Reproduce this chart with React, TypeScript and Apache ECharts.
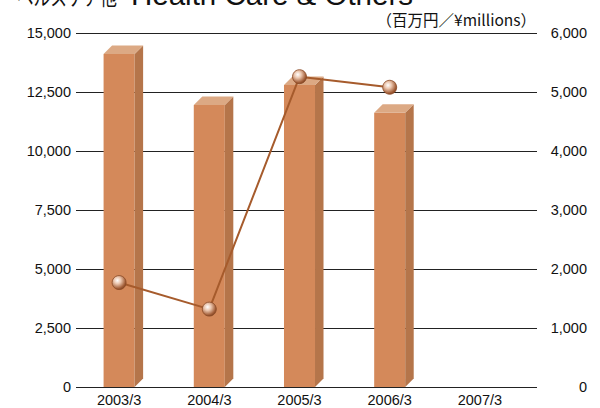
import React, { useEffect, useRef } from "react";
import * as echarts from "echarts";

const categories = ["2003/3", "2004/3", "2005/3", "2006/3", "2007/3"];
const salesValues: (number | null)[] = [14110, 11950, 12800, 11620, null];
const incomeValues: (number | null)[] = [1770, 1320, 5260, 5080, null];
const leftTicks = { min: 0, max: 15000, interval: 2500 };
const rightTicks = { min: 0, max: 6000, interval: 1000 };
const titleJa = "ヘルスケア他";
const titleEn = "Health Care & Others";
const unitText = "（百万円／¥millions）";

const FONT = "'Liberation Sans', Arial, Helvetica, sans-serif";
const fmt = (v: number) => v.toLocaleString("en-US");

export default function App() {
  const ref = useRef<HTMLDivElement>(null);
  useEffect(() => {
    if (!ref.current) return;
    const chart = echarts.init(ref.current, undefined, { renderer: "svg" });
    const frontColor = "#D4895A";
    const sideColor = "#B5754A";
    const topColor = "#DCA984";
    const option: any = {
      animation: false,
      backgroundColor: "#ffffff",
      grid: [
        { left: 74, right: 75, top: 33, bottom: 21 },
        { left: 76, right: 63, top: 33, bottom: 21 },
      ],
      xAxis: [
        {
          type: "category",
          gridIndex: 0,
          data: categories,
          axisLine: { show: false },
          axisTick: { show: false },
          axisLabel: { color: "#111", fontFamily: FONT, fontSize: 14.5, margin: 5 },
        },
        { type: "value", gridIndex: 1, show: false, min: 0, max: 1 },
      ],
      yAxis: [
        { type: "value", gridIndex: 0, show: false, ...leftTicks },
        { type: "value", gridIndex: 0, show: false, ...rightTicks },
        {
          type: "value",
          gridIndex: 1,
          position: "left",
          ...leftTicks,
          axisLine: { show: false },
          axisTick: { show: false },
          axisLabel: { color: "#111", fontFamily: FONT, fontSize: 14.5, margin: 5, formatter: fmt },
          splitLine: { show: true, lineStyle: { color: "#222", width: 1 } },
        },
        {
          type: "value",
          gridIndex: 1,
          position: "right",
          ...rightTicks,
          axisLine: { show: false },
          axisTick: { show: false },
          axisLabel: {
            color: "#111",
            fontFamily: FONT,
            fontSize: 14.5,
            margin: 50,
            align: "right",
            formatter: fmt,
          },
          splitLine: { show: false },
        },
      ],
      series: [
        {
          type: "custom",
          xAxisIndex: 0,
          yAxisIndex: 0,
          z: 3,
          data: salesValues.map((v, i) => [i, v]),
          renderItem: (params: any, api: any) => {
            const v = api.value(1);
            if (v === null || v === undefined || isNaN(v)) return null;
            const topPt = api.coord([api.value(0), v]);
            const basePt = api.coord([api.value(0), 0]);
            const w = api.size([1, 0])[0] * 0.344;
            const d = 8.5;
            const l = topPt[0] - w / 2;
            const r = topPt[0] + w / 2;
            const t = topPt[1];
            const b = basePt[1];
            return {
              type: "group",
              children: [
                {
                  type: "rect",
                  shape: { x: l, y: t, width: w, height: b - t },
                  style: { fill: frontColor },
                },
                {
                  type: "polygon",
                  shape: { points: [[r, t], [r + d, t - d], [r + d, b - d], [r, b]] },
                  style: { fill: sideColor },
                },
                {
                  type: "polygon",
                  shape: { points: [[l, t], [l + d, t - d], [r + d, t - d], [r, t]] },
                  style: { fill: topColor },
                },
              ],
            };
          },
        },
        {
          type: "line",
          xAxisIndex: 0,
          yAxisIndex: 1,
          z: 5,
          data: incomeValues,
          symbol: "circle",
          symbolSize: 14,
          lineStyle: { color: "#A65B2C", width: 2 },
          itemStyle: {
            color: new echarts.graphic.RadialGradient(0.38, 0.35, 0.7, [
              { offset: 0, color: "#ffffff" },
              { offset: 0.35, color: "#EBC6AE" },
              { offset: 0.8, color: "#A4603A" },
              { offset: 1, color: "#7E4120" },
            ]),
            borderColor: "#8A4A26",
            borderWidth: 0.8,
          },
        },
      ],
      graphic: [
        {
          type: "text",
          x: 117,
          y: -5,
          scaleX: 0.76,
          style: {
            text: titleJa,
            fontFamily: "'Noto Sans CJK JP', sans-serif",
            fontSize: 22,
            fill: "#111",
            align: "right",
            verticalAlign: "middle",
          },
        },
        {
          type: "text",
          x: 131,
          y: -6,
          style: {
            text: titleEn,
            fontFamily: FONT,
            fontSize: 29.5,
            fill: "#111",
            align: "left",
            verticalAlign: "middle",
          },
        },
        {
          type: "text",
          x: 536,
          y: 19,
          style: {
            text: unitText,
            fontFamily: "'Noto Sans CJK JP', sans-serif",
            fontSize: 15.5,
            fill: "#111",
            align: "right",
            verticalAlign: "middle",
          },
        },
      ],
    };
    chart.setOption(option);
    return () => chart.dispose();
  }, []);
  return <div ref={ref} style={{ width: 600, height: 408, position: "absolute", left: 0, top: 0 }} />;
}
